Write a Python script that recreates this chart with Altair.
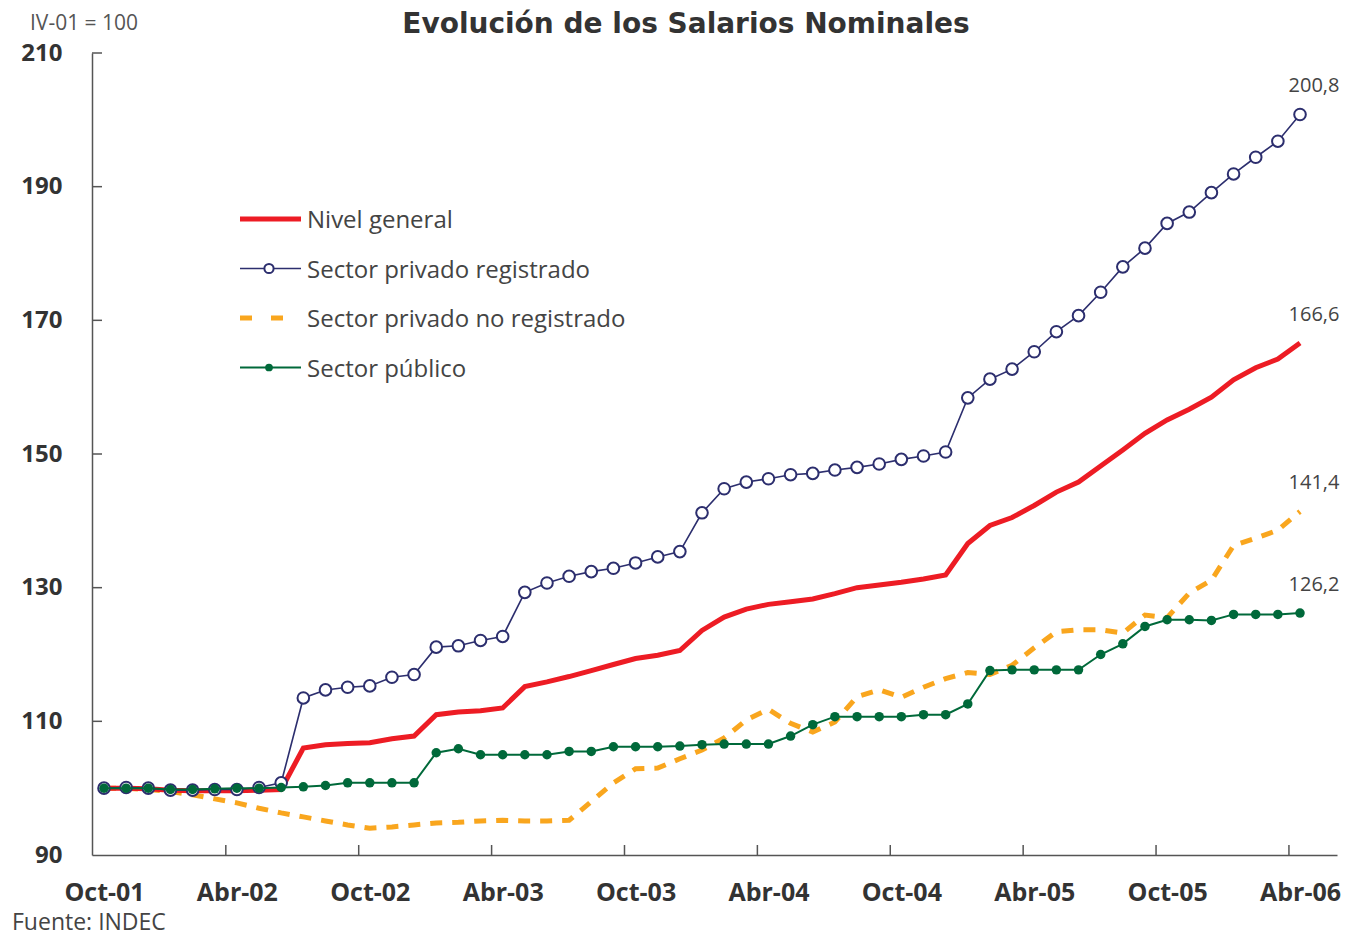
import json
import altair as alt
import pandas as pd

# ---------------- data ----------------
meses = [
    "Oct-01", "Nov-01", "Dic-01",
    "Ene-02", "Feb-02", "Mar-02", "Abr-02", "May-02", "Jun-02", "Jul-02", "Ago-02", "Sep-02", "Oct-02", "Nov-02", "Dic-02",
    "Ene-03", "Feb-03", "Mar-03", "Abr-03", "May-03", "Jun-03", "Jul-03", "Ago-03", "Sep-03", "Oct-03", "Nov-03", "Dic-03",
    "Ene-04", "Feb-04", "Mar-04", "Abr-04", "May-04", "Jun-04", "Jul-04", "Ago-04", "Sep-04", "Oct-04", "Nov-04", "Dic-04",
    "Ene-05", "Feb-05", "Mar-05", "Abr-05", "May-05", "Jun-05", "Jul-05", "Ago-05", "Sep-05", "Oct-05", "Nov-05", "Dic-05",
    "Ene-06", "Feb-06", "Mar-06", "Abr-06",
]
etiquetas_x = ["Oct-01", "Abr-02", "Oct-02", "Abr-03", "Oct-03", "Abr-04", "Oct-04", "Abr-05", "Oct-05", "Abr-06"]
valores_y = [90, 110, 130, 150, 170, 190, 210]

series = ["Nivel general", "Sector privado registrado", "Sector privado no registrado", "Sector público"]

nivel_general = [100.0, 100.0, 99.9, 99.7, 99.6, 99.6, 99.6, 99.7, 99.8,
                 106.0, 106.5, 106.7, 106.8, 107.4, 107.8,
                 111.0, 111.4, 111.6, 112.0,
                 115.2, 115.9, 116.7, 117.6, 118.5, 119.4, 119.9, 120.6,
                 123.6, 125.6, 126.8, 127.5, 127.9, 128.3, 129.1, 130.0, 130.4, 130.8, 131.3, 131.9,
                 136.6, 139.3, 140.5, 142.3, 144.3, 145.8, 148.2, 150.6, 153.1, 155.1, 156.7, 158.5,
                 161.1, 162.9, 164.2, 166.6]

privado_registrado = [100.0, 100.1, 100.0, 99.7, 99.7, 99.8, 99.8, 100.1, 100.8,
                      113.5, 114.7, 115.1, 115.3, 116.6, 117.0,
                      121.1, 121.3, 122.1, 122.7,
                      129.3, 130.7, 131.7, 132.4, 132.9, 133.7, 134.6, 135.4,
                      141.2, 144.8, 145.8, 146.3, 146.9, 147.1, 147.6, 148.0, 148.5, 149.2, 149.7, 150.3,
                      158.4, 161.2, 162.7, 165.3, 168.3, 170.7, 174.2, 178.0, 180.8, 184.5, 186.2, 189.1,
                      191.9, 194.4, 196.8, 200.8]

privado_no_registrado = [100.0, 100.0, 99.8, 99.5, 99.0, 98.4, 97.8, 97.0, 96.3, 95.7,
                         95.1, 94.5, 94.0, 94.2, 94.5, 94.8, 94.9, 95.1, 95.2, 95.1,
                         95.1, 95.2, 98.0, 100.8, 102.9, 103.0, 104.4, 105.7, 107.5, 110.2,
                         111.8, 109.7, 108.4, 109.9, 113.7, 114.7, 113.6, 115.1, 116.4, 117.3,
                         117.0, 118.4, 121.0, 123.4, 123.7, 123.7, 123.2, 125.9, 125.5, 129.2,
                         131.1, 136.3, 137.4, 138.6, 141.4]

sector_publico = [100.0, 100.0, 100.0, 99.8, 99.8, 99.9, 100.0, 100.0, 100.1, 100.2,
                  100.4, 100.8, 100.8, 100.8, 100.8, 105.3, 105.9, 105.0, 105.0, 105.0,
                  105.0, 105.5, 105.5, 106.2, 106.2, 106.2, 106.3, 106.5, 106.6, 106.6,
                  106.6, 107.8, 109.5, 110.7, 110.7, 110.7, 110.7, 111.0, 111.0, 112.6,
                  117.6, 117.7, 117.7, 117.7, 117.7, 120.0, 121.6, 124.2, 125.2, 125.2,
                  125.1, 126.0, 126.0, 126.0, 126.2]

titulo = "Evolución de los Salarios Nominales"
base_txt = "IV-01 = 100"
fuente = "Fuente: INDEC"

# ---------------- styling ----------------
ROJO = "#ED1C24"
AZUL = "#2C2E6E"
NARANJA = "#F9A61E"
VERDE = "#00693A"
FONT = "Open Sans"
TFONT = "DejaVu Sans"
W, H = 1245, 802

valores = [nivel_general, privado_registrado, privado_no_registrado, sector_publico]
rows = []
for nombre, vals in zip(series, valores):
    for i, v in enumerate(vals):
        rows.append({"idx": i, "mes": meses[i], "valor": v, "serie": nombre})
df = pd.DataFrame(rows)

tick_idx = [meses.index(m) for m in etiquetas_x]

x_scale = alt.Scale(domain=[-0.542, 55.67], nice=False, zero=False)
y_scale = alt.Scale(domain=[90, 210], nice=False, zero=False)

x_axis = alt.Axis(values=tick_idx, labelExpr=json.dumps(meses) + "[datum.value]",
                  ticks=False, tickSize=0, grid=False, labelFont=FONT, labelFontSize=25,
                  labelFontWeight="bold", labelColor="#333333", labelPadding=37,
                  labelBaseline="middle", labelOverlap=False, labelFlush=False,
                  domainColor="#555555", domainWidth=1.5, title=None)
y_axis = alt.Axis(values=valores_y, ticks=False, tickSize=0, grid=False, labelFont=FONT,
                  labelFontSize=24, labelFontWeight="bold", labelColor="#333333",
                  labelPadding=30, labelOverlap=False, labelFlush=False,
                  domainColor="#555555", domainWidth=1.5, title=None)


def X(field):
    return alt.X(field, scale=x_scale, axis=x_axis, title=None)


def Y(field):
    return alt.Y(field, scale=y_scale, axis=y_axis, title=None)


def serie(nombre):
    return alt.Chart(df).transform_filter(alt.datum.serie == nombre)


capa_naranja = serie(series[2]).mark_line(color=NARANJA, strokeWidth=5, strokeDash=[12, 10]).encode(x=X("idx:Q"), y=Y("valor:Q"))
capa_roja = serie(series[0]).mark_line(color=ROJO, strokeWidth=5).encode(x=X("idx:Q"), y=Y("valor:Q"))
capa_azul = serie(series[1]).mark_line(color=AZUL, strokeWidth=1.6).encode(x=X("idx:Q"), y=Y("valor:Q"))
puntos_azul = serie(series[1]).mark_circle(fill="white", stroke=AZUL, strokeWidth=2, size=135, opacity=1).encode(x=X("idx:Q"), y=Y("valor:Q"))
capa_verde = serie(series[3]).mark_line(color=VERDE, strokeWidth=2).encode(x=X("idx:Q"), y=Y("valor:Q"))
puntos_verde = serie(series[3]).mark_circle(color=VERDE, size=90, opacity=1).encode(x=X("idx:Q"), y=Y("valor:Q"))

# end labels
ultimos = df[df["idx"] == len(meses) - 1].copy()
ultimos["etiqueta"] = ultimos["valor"].map(lambda v: f"{v:.1f}".replace(".", ","))
etiquetas_fin = alt.Chart(ultimos).mark_text(
    font=FONT, fontSize=20, color="#444444", dx=14, dy=-28
).encode(x=X("idx:Q"), y=Y("valor:Q"), text="etiqueta:N")

# inward ticks
df_xt = pd.DataFrame({"idx": [i - 0.5 for i in tick_idx[1:]]})
ticks_x = alt.Chart(df_xt).mark_rule(color="#555555", strokeWidth=1.5).encode(
    x=X("idx:Q"), y=alt.value(H), y2=alt.value(H - 10))
df_yt = pd.DataFrame({"valor": valores_y[1:]})
ticks_y = alt.Chart(df_yt).mark_rule(color="#555555", strokeWidth=1.5).encode(
    y=Y("valor:Q"), x=alt.value(0), x2=alt.value(10))


# texts
def texto(t, x, y, size, weight="normal", align="left", color="#444444", font=FONT):
    return alt.Chart(pd.DataFrame({"t": [t]})).mark_text(
        font=font, fontSize=size, fontWeight=weight, align=align, baseline="middle", color=color
    ).encode(text="t:N", x=alt.value(x), y=alt.value(y))


capa_titulo = texto(titulo, 594, -28, 28, weight="bold", align="center", color="#333333", font=TFONT)
capa_base = texto(base_txt, -62, -29, 21, color="#555555")
capa_fuente = texto(fuente, -80, 870, 23, color="#444444")

# legend
leg_layers = []
leg_estilos = [
    dict(color=ROJO, strokeWidth=5),
    dict(color=AZUL, strokeWidth=1.6),
    dict(color=NARANJA, strokeWidth=5, strokeDash=[12, 19]),
    dict(color=VERDE, strokeWidth=2),
]
dummy = pd.DataFrame({"a": [0]})
for i, nombre in enumerate(series):
    yy = 166 + 49.5 * i
    leg_layers.append(alt.Chart(dummy).mark_rule(**leg_estilos[i]).encode(
        x=alt.value(148), x2=alt.value(209), y=alt.value(yy)))
    if i == 1:
        leg_layers.append(alt.Chart(dummy).mark_circle(fill="white", stroke=AZUL, strokeWidth=2, size=85, opacity=1).encode(
            x=alt.value(177), y=alt.value(yy)))
    if i == 3:
        leg_layers.append(alt.Chart(dummy).mark_circle(color=VERDE, size=60, opacity=1).encode(
            x=alt.value(177), y=alt.value(yy)))
    leg_layers.append(texto(nombre, 215, yy + 2, 24, color="#444444"))

chart = alt.layer(
    capa_naranja, capa_roja, capa_azul, puntos_azul, capa_verde, puntos_verde,
    etiquetas_fin, ticks_x, ticks_y, capa_titulo, capa_base, capa_fuente, *leg_layers
).properties(
    width=W, height=H,
    background="white",
    autosize=alt.AutoSizeParams(type="none"),
    padding={"left": 84, "top": 45, "right": 4, "bottom": 83},
).configure_view(strokeOpacity=0, strokeWidth=0)

chart.save("out.html", embed_options={"renderer": "svg", "actions": False})
